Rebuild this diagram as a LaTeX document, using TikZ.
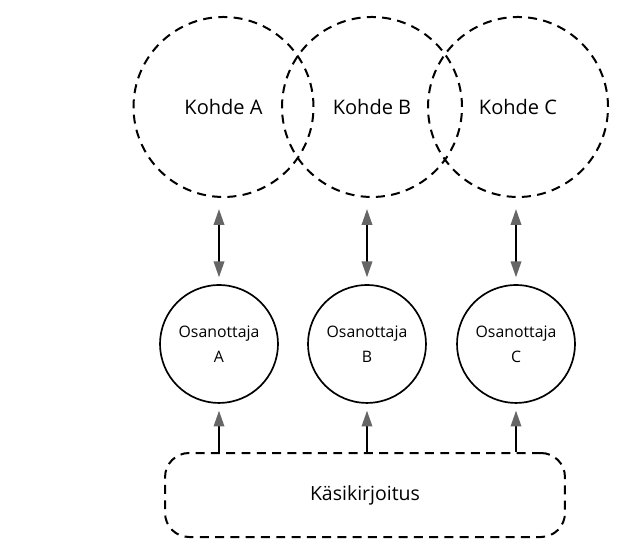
\documentclass[tikz,border=0pt]{standalone}
\usepackage{fontspec}
\setmainfont{Open Sans}
\usetikzlibrary{arrows.meta}

\begin{document}
\begin{tikzpicture}[
  kohde/.style={draw, circle, dash pattern=on 8.5pt off 6pt, line width=1.9pt,
    minimum size=6cm, font=\fontsize{19}{23}\selectfont},
  osanottaja/.style={draw, circle, line width=1.6pt, minimum size=3.93cm,
    align=center, font=\fontsize{15}{23.5}\selectfont},
  kasikirjoitus/.style={draw, rounded corners=0.8cm, dash pattern=on 8.5pt off 6pt,
    line width=1.9pt, minimum width=13.33cm, minimum height=2.8cm,
    font=\fontsize{18.5}{22}\selectfont},
  karki/.tip={Triangle[length=15pt, width=10pt, color=black!60]},
  nuoli/.style={black, line width=1.6pt, -karki, shorten >=0.23cm},
  kaksinuoli/.style={black, line width=1.6pt, karki-karki,
    shorten >=0.23cm, shorten <=0.37cm}
]

\useasboundingbox (0,0) rectangle (20.7,18.133);

\node[kohde] (kA) at (7.45, 14.567) {Kohde A};

\node[kohde] (kB) at (12.4, 14.567) {Kohde B};

\node[kohde] (kC) at (17.267, 14.567) {Kohde C};

\node[osanottaja] (oA) at (7.3, 6.667) {Osanottaja\\A};

\node[osanottaja] (oB) at (12.233, 6.667) {Osanottaja\\B};

\node[osanottaja] (oC) at (17.2, 6.667) {Osanottaja\\C};

\node[kasikirjoitus] (kas) at (12.167, 1.633) {Käsikirjoitus};

\draw[kaksinuoli] (oA.north |- kA.south) -- (oA.north);

\draw[kaksinuoli] (oB.north |- kB.south) -- (oB.north);

\draw[kaksinuoli] (oC.north |- kC.south) -- (oC.north);


\draw[nuoli] (oA.south |- kas.north) -- (oA.south);

\draw[nuoli] (oB.south |- kas.north) -- (oB.south);

\draw[nuoli] (oC.south |- kas.north) -- (oC.south);

\end{tikzpicture}
\end{document}
